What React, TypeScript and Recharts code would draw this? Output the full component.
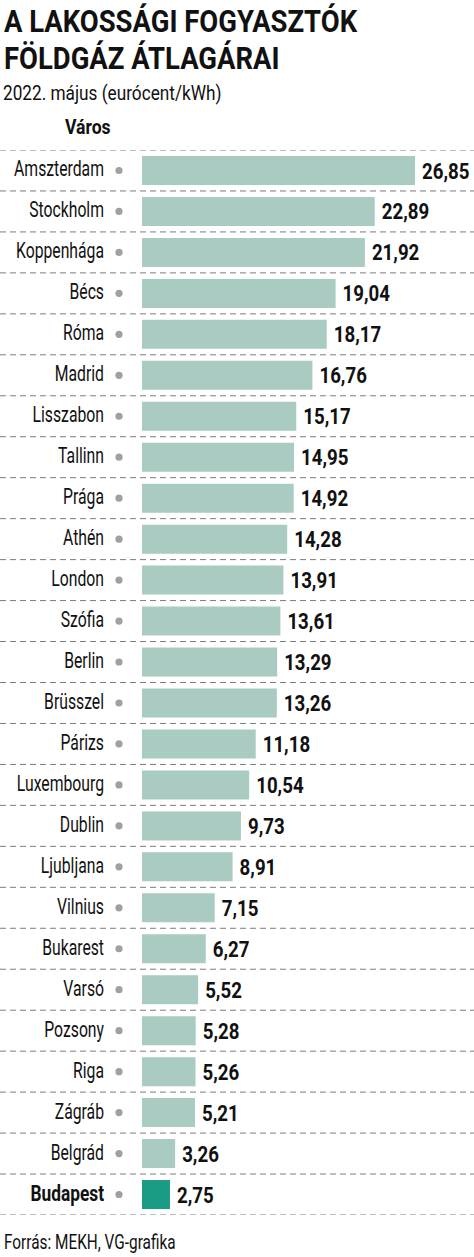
import React from 'react';
import { BarChart, Bar, XAxis, YAxis, Cell, LabelList } from 'recharts';

const cities = [
  'Amszterdam', 'Stockholm', 'Koppenhága', 'Bécs', 'Róma', 'Madrid', 'Lisszabon', 'Tallinn', 'Prága',
  'Athén', 'London', 'Szófia', 'Berlin', 'Brüsszel', 'Párizs', 'Luxembourg', 'Dublin', 'Ljubljana',
  'Vilnius', 'Bukarest', 'Varsó', 'Pozsony', 'Riga', 'Zágráb', 'Belgrád', 'Budapest',
];
const prices = [
  26.85, 22.89, 21.92, 19.04, 18.17, 16.76, 15.17, 14.95, 14.92,
  14.28, 13.91, 13.61, 13.29, 13.26, 11.18, 10.54, 9.73, 8.91,
  7.15, 6.27, 5.52, 5.28, 5.26, 5.21, 3.26, 2.75,
];
const highlight = 'Budapest';

const data = cities.map((city, i) => ({ city, price: prices[i] }));

const FONT = "Roboto, 'DejaVu Sans', sans-serif";
const W = 474;
const CHART_TOP = 150;
const CHART_H = 1065;
const rowH = CHART_H / cities.length;

const fmt = (v: number) => v.toFixed(2).replace('.', ',');

// condensed text: Roboto squeezed horizontally
const Narrow = ({ x, y, sx, size, weight = 400, anchor = 'start', children }: any) => (
  <text
    transform={`translate(${x},${y}) scale(${sx},1)`}
    textAnchor={anchor}
    fontFamily={FONT}
    fontSize={size}
    fontWeight={weight}
    fill="#111"
  >
    {children}
  </text>
);

const CityTick = (props: any) => {
  const { x, y, payload, index } = props;
  const bold = payload.value === highlight;
  const last = index === cities.length - 1;
  return (
    <g>
      <line x1={0} x2={W} y1={y - rowH / 2} y2={y - rowH / 2} stroke="#7c7c7c" strokeDasharray="6 4" strokeWidth={1} />
      {last && (
        <line x1={0} x2={W} y1={y + rowH / 2} y2={y + rowH / 2} stroke="#7c7c7c" strokeDasharray="6 4" strokeWidth={1} />
      )}
      <Narrow x={x - 30} y={y + 6} sx={bold ? 0.77 : 0.7} size={22.5} weight={bold ? 700 : 400} anchor="end">
        {payload.value}
      </Narrow>
      <circle cx={x - 15} cy={y} r={3.6} fill="#a0a0a0" />
    </g>
  );
};

const ValueLabel = (props: any) => {
  const { x, y, width, height, value } = props;
  return (
    <Narrow x={x + width + 7} y={y + height / 2 + 8} sx={0.83} size={22.5} weight={700}>
      {fmt(value)}
    </Narrow>
  );
};

export default function App() {
  return (
    <div style={{ position: 'absolute', left: 0, top: 0, width: W, height: 1257, background: '#fff' }}>
      <svg width={W} height={1257} style={{ position: 'absolute', left: 0, top: 0 }}>
        <Narrow x={4} y={32} sx={0.9} size={30.5} weight={700}>A LAKOSSÁGI FOGYASZTÓK</Narrow>
        <Narrow x={4} y={69} sx={0.9} size={30.5} weight={700}>FÖLDGÁZ ÁTLAGÁRAI</Narrow>
        <Narrow x={3} y={100} sx={0.82} size={21}>2022. május (eurócent/kWh)</Narrow>
        <Narrow x={65} y={134} sx={0.88} size={20} weight={700}>Város</Narrow>
        <Narrow x={4} y={1249} sx={0.75} size={20.5}>Forrás: MEKH, VG-grafika</Narrow>
      </svg>
      <div style={{ position: 'absolute', left: 0, top: CHART_TOP }}>
        <BarChart width={W} height={CHART_H} data={data} layout="vertical" margin={{ top: 0, right: 0, bottom: 0, left: 0 }}>
          <XAxis type="number" hide domain={[0, 32.65]} />
          <YAxis type="category" dataKey="city" width={142} axisLine={false} tickLine={false} tick={<CityTick />} interval={0} />
          <Bar dataKey="price" barSize={29} isAnimationActive={false}>
            {data.map((d) => (
              <Cell key={d.city} fill={d.city === highlight ? '#1a9b84' : '#a9cbc2'} />
            ))}
            <LabelList dataKey="price" content={<ValueLabel />} />
          </Bar>
        </BarChart>
      </div>
    </div>
  );
}
